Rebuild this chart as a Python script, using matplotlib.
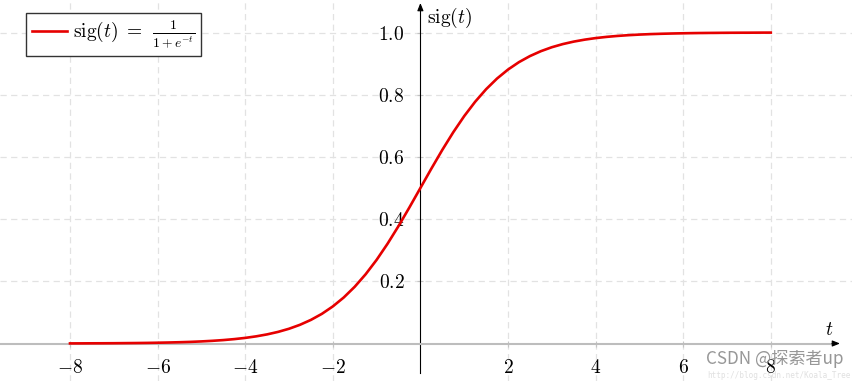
import matplotlib
matplotlib.use('Agg')
import matplotlib.pyplot as plt

# ---- data ----
t_vals = [-8.0, -7.75, -7.5, -7.25, -7.0, -6.75, -6.5, -6.25, -6.0, -5.75, -5.5, -5.25,
          -5.0, -4.75, -4.5, -4.25, -4.0, -3.75, -3.5, -3.25, -3.0, -2.75, -2.5, -2.25,
          -2.0, -1.75, -1.5, -1.25, -1.0, -0.75, -0.5, -0.25, 0.0, 0.25, 0.5, 0.75,
          1.0, 1.25, 1.5, 1.75, 2.0, 2.25, 2.5, 2.75, 3.0, 3.25, 3.5, 3.75,
          4.0, 4.25, 4.5, 4.75, 5.0, 5.25, 5.5, 5.75, 6.0, 6.25, 6.5, 6.75,
          7.0, 7.25, 7.5, 7.75, 8.0]
sig_vals = [0.0003, 0.0004, 0.0006, 0.0007, 0.0009, 0.0012, 0.0015, 0.0019, 0.0025, 0.0032, 0.0041, 0.0052,
            0.0067, 0.0086, 0.0110, 0.0141, 0.0180, 0.0230, 0.0293, 0.0373, 0.0474, 0.0601, 0.0759, 0.0953,
            0.1192, 0.1480, 0.1824, 0.2227, 0.2689, 0.3208, 0.3775, 0.4378, 0.5000, 0.5622, 0.6225, 0.6792,
            0.7311, 0.7773, 0.8176, 0.8520, 0.8808, 0.9047, 0.9241, 0.9399, 0.9526, 0.9627, 0.9707, 0.9770,
            0.9820, 0.9859, 0.9890, 0.9914, 0.9933, 0.9948, 0.9959, 0.9968, 0.9975, 0.9981, 0.9985, 0.9988,
            0.9991, 0.9993, 0.9994, 0.9996, 0.9997]
x_ticks = [-8, -6, -4, -2, 2, 4, 6, 8]
x_tick_labels = [r'$-8$', r'$-6$', r'$-4$', r'$-2$', r'$2$', r'$4$', r'$6$', r'$8$']
y_ticks = [0.2, 0.4, 0.6, 0.8, 1.0]
y_tick_labels = [r'$0.2$', r'$0.4$', r'$0.6$', r'$0.8$', r'$1.0$']
legend_label = r'$\mathrm{sig}(t)\;=\;\,\frac{1}{1+e^{-t}}$'

plt.rcParams['mathtext.fontset'] = 'cm'
plt.rcParams['font.family'] = 'serif'

W, H = 852, 381
fig = plt.figure(figsize=(W / 100, H / 100), dpi=100)
ax = fig.add_axes([0, 0, 1, 1])

# pixel calibration
X0, SX = 420.4, 43.8
Y0, SY = 343.5, 311.0
ax.set_xlim(-X0 / SX, (W - X0) / SX)
ax.set_ylim(-(H - Y0) / SY, Y0 / SY)

ax.set_xticks(x_ticks)
ax.set_xticklabels(x_tick_labels)
ax.set_yticks(y_ticks)
ax.set_yticklabels(y_tick_labels)

ax.grid(True, color='#e2e2e2', lw=0.9, linestyle=(0, (5, 3.5)), zorder=0)
ax.set_axisbelow(True)

for s in ['top', 'right']:
    ax.spines[s].set_visible(False)
ax.spines['left'].set_position(('data', 0))
ax.spines['left'].set_color('black')
ax.spines['left'].set_linewidth(0.8)
ax.spines['left'].set_bounds(-(373 - Y0) / SY, (Y0 - 6) / SY)
ax.spines['bottom'].set_position(('data', 0))
ax.spines['bottom'].set_color('#bdbdbd')
ax.spines['bottom'].set_linewidth(1.5)
ax.spines['bottom'].set_bounds(-X0 / SX, (835 - X0) / SX)

ax.tick_params(axis='both', direction='inout', length=5, width=0.8,
               color='#c4c4c4', labelsize=14)
ax.tick_params(axis='x', pad=9)
ax.tick_params(axis='y', pad=9)

# arrow heads
ax.annotate('', xy=((840 - X0) / SX, 0), xytext=((832 - X0) / SX, 0),
            arrowprops=dict(arrowstyle='-|>,head_length=0.45,head_width=0.18',
                            color='black', lw=0.8, shrinkA=0, shrinkB=0))
ax.annotate('', xy=(0, (Y0 - 3) / SY), xytext=(0, (Y0 - 11) / SY),
            arrowprops=dict(arrowstyle='-|>,head_length=0.45,head_width=0.18',
                            color='black', lw=0.8, shrinkA=0, shrinkB=0))

ax.plot(t_vals, sig_vals, color='#e60000', lw=1.9, label=legend_label, zorder=3)

ax.text((829 - X0) / SX, (Y0 - 330) / SY, r'$t$', fontsize=14, ha='center', va='center')
ax.text((427 - X0) / SX, (Y0 - 18) / SY, r'$\mathrm{sig}(t)$', fontsize=14, ha='left', va='center')

leg = ax.legend(loc='upper left', bbox_to_anchor=(26 / W, 1 - 13 / H), borderaxespad=0,
                fancybox=False, edgecolor='#333333', framealpha=1, fontsize=14,
                handlelength=1.8, handletextpad=0.3, borderpad=0.3)
leg.get_frame().set_linewidth(1.0)

fig.text(706 / W, 1 - 359 / H, 'CSDN @探索者up', fontsize=12.3, color='#8c8c8c',
         family=['Noto Sans CJK SC', 'DejaVu Sans'], ha='left', va='center', alpha=0.9)
fig.text(707 / W, 1 - 375 / H, 'http://blog.csdn.net/Koala_Tree', fontsize=5.5,
         color='#e0e0e0', family='DejaVu Sans Mono', ha='left', va='center')

fig.savefig('out.png', dpi=100)
